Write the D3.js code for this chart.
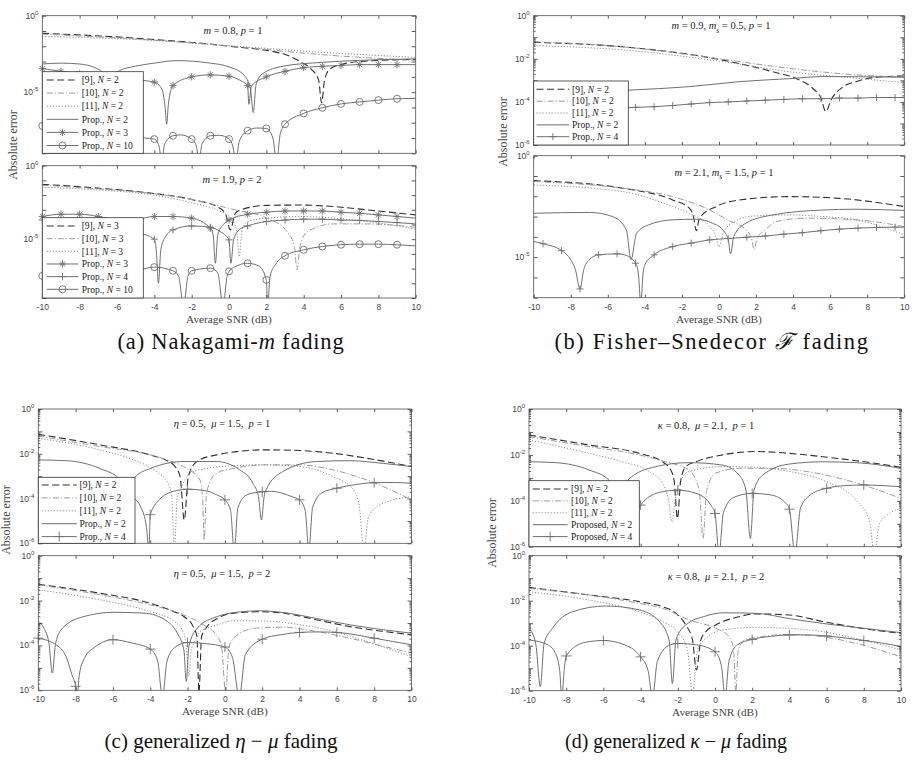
<!DOCTYPE html>
<html>
<head>
<meta charset="utf-8">
<script src="https://cdn.jsdelivr.net/npm/d3@7/dist/d3.min.js"></script>
<style>
  html, body { margin: 0; padding: 0; background: #fff; }
  svg { display: block; }
</style>
</head>
<body>
<svg id="fig" width="912" height="768"></svg>
<script>
// ---------------- data ----------------
const snrTicks = [-10, -8, -6, -4, -2, 0, 2, 4, 6, 8, 10];
const markEveryDb = [-10, -9, -8, -7, -6, -5, -4, -3, -2, -1, 0, 1, 2, 3, 4, 5, 6, 7, 8, 9];
const markHalfDb = [-9.5, -8.5, -7.5, -6.5, -5.5, -4.5, -3.5, -2.5, -1.5, -0.5, 0.5, 1.5, 2.5, 3.5, 4.5, 5.5, 6.5, 7.5, 8.5, 9.5];
const markEvenDb = [-8, -6, -4, -2, 0, 2, 4, 6, 8];
const markEvenFromMinus10 = [-10, -8, -6, -4, -2, 0, 2, 4, 6, 8];

const yLabelsWide = [1, 1e-5];
const yLabelsFine = [1, 1e-2, 1e-4, 1e-6];

// (a) Nakagami-m, m = 0.8, p = 1
const aTopRef9 = [[-10,7.1e-2],[-5,3.4e-2],[0,1.0e-2],[2.9,3.2e-3],[3.8,1.0e-3],[4.4,3.2e-4],[4.8,6.3e-5],[4.96,2.0e-6],[5.12,6.3e-5],[5.4,3.2e-4],[6,6.3e-4],[7,1.0e-3],[10,1.4e-3]];
const aTopRef10 = [[-10,6.2e-2],[-5,3.0e-2],[0,1.05e-2],[5,2.8e-3],[10,1.2e-3]];
const aTopRef11 = [[-10,4.4e-2],[-5,2.8e-2],[0,1.1e-2],[5,4.0e-3],[10,1.9e-3]];
const aTopProp2 = [[-10,6.9e-4],[-9,7.9e-4],[-8,6.9e-4],[-6.9,2.7e-4],[-6.6,6e-5],[-6.45,1e-6],[-6.3,6e-5],[-5.93,2.3e-4],[-5,5.0e-4],[-4,7.9e-4],[-2.8,1.15e-3],[-1,7.9e-4],[0,4.5e-4],[0.8,1.3e-4],[1.15,1.6e-5],[1.3,4.6e-7],[1.45,3.2e-5],[1.8,1.6e-4],[2.9,5.0e-4],[5,8.9e-4],[7,1.2e-3],[10,1.5e-3]];
const aTopProp3 = [[-10,3.5e-4],[-9,2.3e-4],[-8,1.6e-4],[-7,1.2e-4],[-6,9e-5],[-5,6.5e-5],[-4,4.5e-5],[-3.6,1.6e-5],[-3.42,1e-6],[-3.34,8e-8],[-3.24,2e-6],[-3,2.7e-5],[-2,1.0e-4],[-1,1.35e-4],[0,1.1e-4],[0.7,5e-5],[1,2.7e-5],[1.06,1.6e-6],[1.2,2.5e-5],[2,1.0e-4],[3,2.3e-4],[4,4.0e-4],[5,4.9e-4],[6,5.6e-4],[7,6.3e-4],[8,6.3e-4],[9,6.3e-4],[10,6.3e-4]];
const aTopProp10 = [[-10,6.2e-8],[-9,4e-8],[-8,2.5e-8],[-7,1.8e-8],[-6,1.4e-8],[-5,1.1e-8],[-4,8.5e-9],[-3.75,3e-9],[-3.6,3e-10],[-3.45,4e-9],[-3,1.4e-8],[-2.6,1.6e-8],[-2,8.5e-9],[-1.75,3e-9],[-1.6,3e-10],[-1.45,4e-9],[-1,1.4e-8],[-0.5,1.5e-8],[0,8.5e-9],[0.2,3e-9],[0.37,3e-10],[0.55,6e-9],[1,3e-8],[1.5,4.5e-8],[2,4.2e-8],[2.35,1e-8],[2.55,3e-10],[2.75,2e-8],[3,8e-8],[4,4.1e-7],[5,9.5e-7],[6,1.7e-6],[7,2.3e-6],[8,3e-6],[9,3.7e-6],[10,3.9e-6]];

// (a) Nakagami-m, m = 1.9, p = 2
const aBotRef9 = [[-10,5.4e-2],[-6.9,2.9e-2],[-4.04,1.3e-2],[-1.9,4.7e-3],[-0.64,1.65e-3],[-0.2,5.8e-4],[0.07,4.3e-5],[0.34,5.8e-4],[0.61,9.8e-4],[2.04,2.0e-3],[3.83,2.1e-3],[5.62,1.65e-3],[7.41,9.8e-4],[10,4.5e-4]];
const aBotRef10 = [[-10,4.7e-2],[-6.9,2.6e-2],[-4.04,1.26e-2],[-1.9,4.7e-3],[0.33,9.8e-4],[2.04,2.7e-4],[3.11,3.3e-5],[3.5,3.2e-6],[3.65,8.3e-8],[3.8,3.2e-6],[4.2,3.3e-5],[5.6,1.1e-4],[7.4,1.1e-4],[10,6.5e-5]];
const aBotRef11 = [[-10,3.4e-2],[-6.9,2.2e-2],[-4.04,1.0e-2],[-1.9,2.8e-3],[-0.64,9.8e-4],[0.1,2.7e-4],[0.4,4.3e-5],[0.55,6.6e-7],[0.7,4.3e-5],[1.0,1.6e-4],[2.04,2.7e-4],[3.83,3.5e-4],[5.62,2.7e-4],[7.41,1.6e-4],[10,4.8e-5]];
const aBotProp3 = [[-10,3.5e-4],[-9,5.0e-4],[-8,5.0e-4],[-7,3.5e-4],[-6,1.6e-4],[-5.5,5e-7],[-5,1.6e-4],[-4,3.5e-4],[-3,3.5e-4],[-2,2.7e-4],[-1,5.6e-5],[-0.85,2e-5],[-0.73,2.3e-7],[-0.6,2e-5],[-0.3,1e-4],[0,2.0e-4],[1,5.0e-4],[2,6.8e-4],[3,8.3e-4],[4,8.3e-4],[5,8.3e-4],[6,6.8e-4],[7,5.8e-4],[8,4.5e-4],[9,3.5e-4],[10,2.7e-4]];
const aBotProp4 = [[-10,2.0e-4],[-9,1.5e-4],[-8,1.2e-4],[-7,9e-5],[-6,6e-5],[-5,3e-5],[-4,1.0e-5],[-3.88,1e-6],[-3.78,1e-8],[-3.65,2e-6],[-3.4,1.5e-5],[-3,4.3e-5],[-2,8e-5],[-1,6.5e-5],[-0.5,3.5e-5],[0,9e-6],[0.1,2.3e-7],[0.25,1e-5],[0.6,5e-5],[1,8e-5],[2,1.6e-4],[3,2.0e-4],[4,2.3e-4],[5,2.3e-4],[6,2.0e-4],[7,1.9e-4],[8,1.6e-4],[9,1.35e-4],[10,1.1e-4]];
const aBotProp10 = [[-10,3.2e-8],[-9,5e-8],[-8,6e-8],[-7,4e-8],[-6,1e-8],[-5.6,3e-10],[-5,5e-8],[-4,1.26e-7],[-3,7.1e-8],[-2.7,3e-8],[-2.43,3e-10],[-2.2,3e-8],[-2,7.1e-8],[-1,1.07e-7],[-0.6,5e-8],[-0.32,3e-10],[-0.1,3e-8],[0,6.5e-8],[0.5,1.7e-7],[1,2.3e-7],[1.6,1.5e-7],[2,1.7e-8],[2.07,3e-10],[2.2,3e-8],[2.5,2e-7],[3,7.4e-7],[4,1.9e-6],[5,3.2e-6],[6,4.2e-6],[7,4.6e-6],[8,4.6e-6],[9,4.2e-6],[10,3.5e-6]];

// (b) Fisher-Snedecor, m = 0.9, ms = 0.5, p = 1
const bTopRef9 = [[-10,5.8e-2],[-5.2,3.6e-2],[0.2,8.7e-3],[2.9,2.5e-3],[4.33,1.05e-3],[5.05,4.3e-4],[5.5,1.5e-4],[5.77,3.5e-5],[6.04,1.2e-4],[6.67,4.8e-4],[7.39,8.7e-4],[8.47,1.4e-3],[10,1.6e-3]];
const bTopRef10 = [[-10,6.2e-2],[-5.2,3.6e-2],[0.2,9.5e-3],[3.8,3.6e-3],[7.4,1.8e-3],[10,1.4e-3]];
const bTopRef11 = [[-10,4.1e-2],[-5.2,2.6e-2],[0.2,7.4e-3],[3.8,2.5e-3],[7.4,1.26e-3],[10,7.8e-4]];
const bTopProp2 = [[-10,2.4e-4],[-7,2.9e-4],[-4.9,3.5e-4],[-1.6,5.1e-4],[1.1,8.7e-4],[3.8,1.2e-3],[5.6,1.5e-3],[10,1.4e-3]];
const bTopProp4 = [[-10,3.5e-5],[-9.5,3.7e-5],[-8.5,4e-5],[-7.5,4.3e-5],[-6.5,4.7e-5],[-5.5,5.2e-5],[-4.5,5.6e-5],[-3.5,6.0e-5],[-2.5,6.8e-5],[-1.5,8e-5],[-0.5,9.3e-5],[0.5,1.0e-4],[1.5,1.1e-4],[2.5,1.2e-4],[3.5,1.3e-4],[4.5,1.4e-4],[5.5,1.4e-4],[6.5,1.5e-4],[7.5,1.5e-4],[8.5,1.6e-4],[9.5,1.6e-4],[10,1.6e-4]];

// (b) Fisher-Snedecor, m = 2.1, ms = 1.5, p = 1
const bBotRef9 = [[-10,5.9e-2],[-5.2,2.5e-2],[-2.5,6.6e-3],[-1.6,2.6e-3],[-1.38,1e-3],[-1.22,2e-4],[-1.06,8.3e-4],[-0.16,3.1e-3],[1.1,6.6e-3],[3.8,9.6e-3],[6.5,7.9e-3],[10,3.1e-3]];
const bBotRef10 = [[-10,5.3e-2],[-5.2,2.5e-2],[-2.5,9.6e-3],[-0.5,2.1e-3],[0.45,6.9e-4],[1.45,2.2e-4],[1.75,8.5e-5],[1.9,2.3e-5],[2.05,8.5e-5],[2.5,2.2e-4],[3.1,5.6e-4],[4.7,8.3e-4],[7.4,6.9e-4],[10,3.2e-4]];
const bBotRef11 = [[-10,3.6e-2],[-5.2,1.7e-2],[-2.5,3.1e-3],[-1.6,1.45e-3],[-0.5,3.2e-4],[-0.2,1.26e-4],[0,3.3e-5],[0.2,1.26e-4],[0.4,2.7e-4],[1,6.9e-4],[1.9,1.07e-3],[3.8,1.2e-3],[5.6,1e-3],[7.4,6.9e-4],[10,1.26e-4]];
const bBotProp2 = [[-10,1.45e-3],[-7,1.6e-3],[-5.75,1e-3],[-5.0,2.2e-4],[-4.75,7.4e-6],[-4.45,1.5e-4],[-3.8,3.9e-4],[-2.5,6.9e-4],[-1.25,7.4e-4],[-0.35,4.7e-4],[0.2,2.2e-4],[0.5,7.1e-5],[0.62,1.45e-5],[0.8,1.05e-4],[1.45,4.7e-4],[2.9,1.2e-3],[5.6,2.1e-3],[7.4,2.3e-3],[10,2.0e-3]];
const bBotProp4 = [[-10,5.9e-5],[-9.5,4.6e-5],[-8.5,2.1e-5],[-8,7.4e-6],[-7.75,2.4e-6],[-7.5,2.7e-7],[-7.3,2.4e-6],[-7,7.4e-6],[-6.5,1.3e-5],[-5.5,1.45e-5],[-5,1.2e-5],[-4.5,5e-6],[-4.35,1.5e-6],[-4.22,5e-8],[-4.1,1.5e-6],[-4,4.2e-6],[-3.5,1.3e-5],[-2.5,3.3e-5],[-1.5,4.9e-5],[-0.5,7.1e-5],[0.5,8.3e-5],[1.5,9.6e-5],[2.5,1.1e-4],[3.5,1.35e-4],[4.5,1.6e-4],[5.5,2e-4],[6.5,2.4e-4],[7.5,2.7e-4],[8.5,2.9e-4],[9.5,3e-4],[10,3e-4]];

// (c) generalized eta-mu, p = 1
const cTopRef9 = [[-10,7.4e-2],[-6.7,2.5e-2],[-4,8.9e-3],[-3.1,4.9e-3],[-2.75,3.2e-3],[-2.4,9.5e-4],[-2.18,1.1e-5],[-1.96,9.5e-4],[-1.5,4.5e-3],[-0.45,8.9e-3],[2.2,1.5e-2],[4,1.4e-2],[5.8,1.05e-2],[7.6,6.3e-3],[10,2.7e-3]];
const cTopRef10 = [[-10,6.2e-2],[-6.7,2.1e-2],[-4,8.9e-3],[-3.1,5.3e-3],[-2.05,2.2e-3],[-1.34,6.8e-4],[-1.2,1.2e-4],[-1.11,1.4e-6],[-1.0,1.2e-4],[-0.75,6.8e-4],[-0.45,1.35e-3],[0.45,2.2e-3],[2.2,3.2e-3],[4,3.2e-3],[5.8,1.9e-3],[7.6,6.8e-4],[10,8.7e-5]];
const cTopRef11 = [[-10,4.9e-2],[-6.7,1.5e-2],[-4.9,5.3e-3],[-3.66,1.6e-3],[-3.1,5.7e-4],[-2.85,1.2e-4],[-2.71,5e-7],[-2.55,1.2e-4],[-2.4,2.4e-4],[-1.88,1.35e-3],[-1,2.2e-3],[0.45,2.9e-3],[2.2,3.2e-3],[4,2.7e-3],[5.8,9.5e-4],[6.9,2.4e-4],[7.2,4.4e-5],[7.45,5e-7],[7.7,1.6e-5],[8.5,6.2e-5],[10,1.2e-4]];
const cTopProp2 = [[-10,5.3e-3],[-8.5,4.9e-3],[-6.7,2.2e-3],[-5.6,6.8e-4],[-5.35,1.5e-4],[-5.2,1e-6],[-5.05,1.5e-4],[-4.82,8.9e-4],[-4,2.2e-3],[-2.2,4.5e-3],[-0.45,4.5e-3],[0.8,1.9e-3],[1.5,4.8e-4],[1.8,1.2e-4],[1.96,1.1e-5],[2.1,1.2e-4],[2.2,2.4e-4],[3.1,1.6e-3],[4.9,4.5e-3],[6.7,4.9e-3],[8.5,3.7e-3],[10,2.7e-3]];
const cTopProp4 = [[-10,1.5e-4],[-9,2e-5],[-8.6,5e-7],[-8.2,3e-5],[-8,6e-5],[-6.5,2.3e-4],[-6,2e-4],[-5,1.2e-4],[-4.5,4e-5],[-4.2,5e-6],[-4.07,5e-7],[-4,1.9e-5],[-3.5,9e-5],[-3,1.8e-4],[-2,2.6e-4],[-1,2.2e-4],[-0.4,1.4e-4],[0,8.7e-5],[0.3,3e-5],[0.5,5e-7],[0.7,4e-5],[1.2,1.5e-4],[2,2.0e-4],[2.5,2.1e-4],[3,1.8e-4],[3.6,1.2e-4],[4,8.7e-5],[4.3,3e-5],[4.5,5e-7],[4.7,4e-5],[5.2,1.8e-4],[6,2.9e-4],[7,4.2e-4],[8,5.1e-4],[9,5.2e-4],[10,4.8e-4]];

// (c) generalized eta-mu, p = 2
const cBotRef9 = [[-10,5.3e-2],[-6.66,2.1e-2],[-4,7.6e-3],[-2.73,3.2e-3],[-2.2,1.95e-3],[-1.7,6.9e-4],[-1.5,2.5e-4],[-1.39,8e-7],[-1.25,2.5e-4],[-0.95,6.9e-4],[-0.4,1.6e-3],[0.48,2.75e-3],[1.9,3.2e-3],[3.16,2.75e-3],[4.9,1.4e-3],[6.7,6.9e-4],[8.5,4.2e-4],[10,3.0e-4]];
const cBotRef10 = [[-10,5e-2],[-6.66,1.8e-2],[-4,6.4e-3],[-2.2,2.3e-3],[-1.16,8.3e-4],[-0.4,2.5e-4],[-0.18,9.1e-5],[0.04,8e-7],[0.22,9.1e-5],[0.8,3.5e-4],[1.7,5.9e-4],[3.16,6.5e-4],[4.9,4.2e-4],[6.7,2.1e-4],[8.5,9.1e-5],[10,4.6e-5]];
const cBotRef11 = [[-10,3.0e-2],[-6.66,1.07e-2],[-4,3.2e-3],[-2.73,1.2e-3],[-2.2,3.5e-4],[-2.05,6.4e-5],[-1.93,4.2e-6],[-1.8,6.4e-5],[-1.66,1.26e-4],[-1.3,4.2e-4],[-0.4,8.3e-4],[0.48,1.26e-3],[2.27,1.2e-3],[4.05,8.3e-4],[5.84,4.2e-4],[7.6,1.5e-4],[10,3.2e-5]];
const cBotProp2 = [[-10,1.2e-3],[-9.7,5.9e-4],[-9.43,1.26e-4],[-9.25,5.9e-6],[-9.07,1.26e-4],[-8.7,5.9e-4],[-7.55,1.95e-3],[-5.95,3.0e-3],[-4.34,2.75e-3],[-3.1,1.2e-3],[-2.55,3.5e-4],[-2.2,6.4e-5],[-2.07,2.5e-6],[-1.93,9.1e-5],[-1.48,5.9e-4],[-0.4,1.95e-3],[0.48,2.9e-3],[1.9,3.5e-3],[3.16,2.9e-3],[4.9,1.6e-3],[6.7,8.3e-4],[8.5,5e-4],[10,3.5e-4]];
const cBotProp4 = [[-10,2.1e-4],[-9,1e-4],[-8.5,3e-5],[-8.2,5e-6],[-8,1.5e-6],[-7.92,5e-7],[-7.8,5e-6],[-7.5,3e-5],[-7,8e-5],[-6,1.8e-4],[-5,1.3e-4],[-4,6.9e-5],[-3.6,2e-5],[-3.35,5e-7],[-3.1,2e-5],[-2.7,8e-5],[-2,1.35e-4],[-1,1.2e-4],[0,8.5e-5],[0.4,3e-5],[0.77,5e-7],[1.1,4e-5],[2,1.9e-4],[3,3e-4],[4,3.8e-4],[5,4e-4],[6,3.8e-4],[7,3e-4],[8,2.1e-4],[9,1.5e-4],[10,1.07e-4]];

// (d) generalized kappa-mu, p = 1
const dTopRef9 = [[-10,7.4e-2],[-6.77,2.7e-2],[-4.08,1.17e-2],[-2.82,5.0e-3],[-2.38,2.2e-3],[-2.2,7.9e-4],[-2.02,1.7e-5],[-1.84,7.9e-4],[-1.57,3.1e-3],[-1.03,5e-3],[0.4,1e-2],[2.2,1.4e-2],[4,1.17e-2],[5.8,8.3e-3],[7.58,5.6e-3],[10,2.9e-3]];
const dTopRef10 = [[-10,6.2e-2],[-6.77,2.3e-2],[-4.08,1e-2],[-2.65,5e-3],[-1.4,2.2e-3],[-0.85,2.9e-4],[-0.64,2.3e-6],[-0.45,2.9e-4],[0.04,1.6e-3],[1.3,2.6e-3],[3.1,2.6e-3],[4.9,1.9e-3],[6.7,9.5e-4],[8.5,3.5e-4],[10,1.26e-4]];
const dTopRef11 = [[-10,4.5e-2],[-6.77,1.17e-2],[-4.98,5e-3],[-3.54,1.9e-3],[-2.82,5.8e-4],[-2.5,1.07e-4],[-2.32,1.2e-5],[-2.15,1.07e-4],[-1.9,5.8e-4],[-1.39,1.9e-3],[0.4,3.1e-3],[2.2,2.9e-3],[4,1.9e-3],[5.8,7.9e-4],[7.58,1.07e-4],[8.3,1.45e-5],[8.57,5e-7],[8.84,1e-5],[9.38,2.8e-5],[10,4.7e-5]];
const dTopProp2 = [[-10,5e-3],[-8.56,4.6e-3],[-6.77,2.2e-3],[-5.7,7.9e-4],[-5.35,1e-4],[-5.2,1e-6],[-5.05,1e-4],[-4.7,7.9e-4],[-3.18,3.1e-3],[-1.39,4.6e-3],[0.4,3.6e-3],[1.3,1.3e-3],[1.66,2.9e-4],[1.9,2.3e-6],[2.1,2.9e-4],[2.56,1.3e-3],[4,4e-3],[5.78,5e-3],[7.58,4.6e-3],[10,2.6e-3]];
const dTopProp4 = [[-10,2e-4],[-8,6e-5],[-7.2,5e-7],[-6.6,8e-5],[-6,2e-4],[-5,1e-4],[-4.4,5e-7],[-4.2,2e-5],[-4,6.5e-5],[-3,2.3e-4],[-2,2.9e-4],[-1,2.1e-4],[-0.2,6e-5],[0,2.8e-5],[0.22,5e-7],[0.45,3e-5],[1,1.4e-4],[2,2.1e-4],[3,1.8e-4],[3.8,8e-5],[4,4.3e-5],[4.3,5e-7],[4.6,5e-5],[5.2,2e-4],[6,3.5e-4],[7,4.6e-4],[8,4.9e-4],[9,4.6e-4],[10,4.1e-4]];

// (d) generalized kappa-mu, p = 2
const dBotRef9 = [[-10,3.9e-2],[-6.77,1.8e-2],[-4.08,9.1e-3],[-2.82,5.4e-3],[-2.1,2.75e-3],[-1.57,8.3e-4],[-1.21,1.8e-4],[-1.0,8.3e-6],[-0.76,1.8e-4],[-0.49,4.2e-4],[0.04,8.3e-4],[1.3,1.95e-3],[2.2,2.6e-3],[4,2.3e-3],[5.78,1.2e-3],[7.58,6.5e-4],[10,3.5e-4]];
const dBotRef10 = [[-10,3.5e-2],[-6.77,1.8e-2],[-4.08,7.6e-3],[-2.82,4.6e-3],[-1.39,1.4e-3],[0.04,5.9e-4],[0.76,2.5e-4],[1.0,6.5e-5],[1.12,8e-7],[1.25,6.5e-5],[1.66,1.9e-4],[2.2,2.3e-4],[4,3.2e-4],[5.78,2.5e-4],[7.58,1.26e-4],[10,3.2e-5]];
const dBotRef11 = [[-10,2.5e-2],[-6.77,1.07e-2],[-4.08,3.2e-3],[-2.82,1.2e-3],[-1.93,3.5e-4],[-1.48,6.5e-5],[-1.21,8e-7],[-0.94,6.5e-5],[-0.49,2.1e-4],[0.4,5e-4],[2.2,6.5e-4],[4,5.9e-4],[5.78,4.2e-4],[7.58,2.1e-4],[10,6.5e-5]];
const dBotProp2 = [[-10,5.9e-4],[-9.64,1.26e-4],[-9.39,1.5e-6],[-9.19,1.26e-4],[-8.74,5.9e-4],[-7.67,3.2e-3],[-5.87,5.8e-3],[-4.08,3.9e-3],[-3,1.2e-3],[-2.47,1.8e-4],[-2.29,2.1e-6],[-2.1,1.8e-4],[-1.57,8.3e-4],[-0.49,2.1e-3],[0.4,2.9e-3],[2.2,2.75e-3],[4,1.6e-3],[5.78,9.8e-4],[7.58,6.5e-4],[10,3.8e-4]];
const dBotProp4 = [[-10,1.8e-4],[-9,1.1e-4],[-8.6,5e-5],[-8.35,8e-6],[-8.24,5e-7],[-8.1,1e-5],[-8,3.5e-5],[-7,1.4e-4],[-6,1.7e-4],[-5,1.2e-4],[-4,3.2e-5],[-3.6,8e-6],[-3.36,5e-7],[-3.1,2e-5],[-2.5,1e-4],[-2,1.26e-4],[-1,1.1e-4],[0,5.4e-5],[0.35,1.2e-5],[0.54,5e-7],[0.75,2e-5],[1.2,1.1e-4],[2,1.9e-4],[3,2.6e-4],[4,3.0e-4],[5,3.0e-4],[6,2.7e-4],[7,2.2e-4],[8,1.7e-4],[9,1.3e-4],[10,9.1e-5]];

// legend texts and in-plot notes
const legendA1 = ["[9], N = 2", "[10], N = 2", "[11], N = 2", "Prop., N = 2", "Prop., N = 3", "Prop., N = 10"];
const legendA2 = ["[9], N = 3", "[10], N = 3", "[11], N = 3", "Prop., N = 3", "Prop., N = 4", "Prop., N = 10"];
const legendB1 = ["[9], N = 2", "[10], N = 2", "[11], N = 2", "Prop., N = 2", "Prop., N = 4"];
const legendC1 = ["[9], N = 2", "[10], N = 2", "[11], N = 2", "Prop., N = 2", "Prop., N = 4"];
const legendD1 = ["[9], N = 2", "[10], N = 2", "[11], N = 2", "Proposed, N = 2", "Proposed, N = 4"];

const noteA1 = "m = 0.8, p = 1";
const noteA2 = "m = 1.9, p = 2";
const noteB1 = "m = 0.9, m_s = 0.5, p = 1";
const noteB2 = "m = 2.1, m_s = 1.5, p = 1";
const noteC1 = "η = 0.5,  μ = 1.5,  p = 1";
const noteC2 = "η = 0.5,  μ = 1.5,  p = 2";
const noteD1 = "κ = 0.8,  μ = 2.1,  p = 1";
const noteD2 = "κ = 0.8,  μ = 2.1,  p = 2";

const captionA = [["(a) Nakagami-"], ["m", "i"], [" fading"]];
const captionB = [["(b) Fisher–Snedecor "], ["ℱ", "i"], [" fading"]];
const captionC = [["(c) generalized "], ["η", "i"], [" − "], ["μ", "i"], [" fading"]];
const captionD = [["(d) generalized "], ["κ", "i"], [" − "], ["μ", "i"], [" fading"]];

const xAxisTitle = "Average SNR (dB)";
const yAxisTitle = "Absolute error";

// ---------------- drawing ----------------
const SERIF = "'Liberation Serif', 'Times New Roman', serif";
const SANS = "'Liberation Sans', Arial, sans-serif";

const lineStyles = {
  ref9:  { stroke: "#2e2e2e", dash: "7,3.5", width: 1.1 },
  ref10: { stroke: "#9b9b9b", dash: "6,2,1.2,2", width: 1 },
  ref11: { stroke: "#8c8c8c", dash: "1.2,1.8", width: 1 },
  prop:  { stroke: "#6f6f6f", dash: null, width: 1 }
};

const svg = d3.select("#fig");
svg.append("rect").attr("width", 912).attr("height", 768).attr("fill", "#fff");
const defs = svg.append("defs");

// styled text pieces: "" normal, "i" italic, "isub" italic subscript
function richText(text, parts, size) {
  let shift = 0;
  parts.forEach(([s, st]) => {
    const t = text.append("tspan").text(s);
    let target = 0;
    if (st === "i" || st === "isub") t.attr("font-style", "italic");
    if (st === "isub") { target = size * 0.3; t.attr("font-size", size * 0.72); }
    if (target !== shift) t.attr("dy", target - shift);
    shift = target;
  });
}

// math string: letters italic, "_x" as italic subscript
function mathParts(str) {
  const parts = [];
  let buf = "";
  for (let i = 0; i < str.length; i++) {
    const c = str[i];
    if (c === "_" && i + 1 < str.length) {
      if (buf) { parts.push([buf, ""]); buf = ""; }
      parts.push([str[i + 1], "isub"]);
      i++;
    } else if (/[A-Za-zηκμ]/.test(c)) {
      if (buf) { parts.push([buf, ""]); buf = ""; }
      parts.push([c, "i"]);
    } else {
      buf += c;
    }
  }
  if (buf) parts.push([buf, ""]);
  return parts;
}

function legendParts(str) {
  return str.split(/(N)/).filter(s => s.length).map(s => [s, s === "N" ? "i" : ""]);
}

function drawMarker(g, type, cx, cy, s, color) {
  if (type === "circle") {
    g.append("circle").attr("cx", cx).attr("cy", cy).attr("r", s)
      .attr("fill", "none").attr("stroke", color).attr("stroke-width", 0.9);
    return;
  }
  let d = `M${cx - s},${cy}H${cx + s}M${cx},${cy - s}V${cy + s}`;
  if (type === "star") {
    const k = s * 0.72;
    d += `M${cx - k},${cy - k}L${cx + k},${cy + k}M${cx - k},${cy + k}L${cx + k},${cy - k}`;
  }
  g.append("path").attr("d", d).attr("fill", "none").attr("stroke", color).attr("stroke-width", 0.9);
}

function styleAxis(g) {
  g.select(".domain").remove();
  g.selectAll(".tick line").attr("stroke", "#333").attr("stroke-width", 0.8);
  g.attr("font-family", SANS).attr("font-size", null);
}

function drawPanel(p) {
  const g = svg.append("g").attr("class", "panel-" + p.id);
  const x = d3.scaleLinear().domain([-10, 10]).range([p.x0, p.x1]);
  const y = d3.scaleLog().domain(p.dom).range([p.y1, p.y0]);

  const clipId = "clip-" + p.id;
  defs.append("clipPath").attr("id", clipId).append("rect")
    .attr("x", p.x0).attr("y", p.y0).attr("width", p.x1 - p.x0).attr("height", p.y1 - p.y0);

  const line = d3.line().x(d => x(d[0])).y(d => y(d[1])).curve(d3.curveMonotoneX);

  // curves
  const curves = g.append("g").attr("clip-path", `url(#${clipId})`);
  p.series.forEach(s => {
    const st = lineStyles[s.st];
    curves.append("path").datum(s.d).attr("d", line)
      .attr("fill", "none").attr("stroke", st.stroke).attr("stroke-width", st.width)
      .attr("stroke-dasharray", st.dash).attr("stroke-linejoin", "round");
  });

  // markers
  const mk = g.append("g");
  p.series.filter(s => s.mk).forEach(s => {
    s.at.forEach(xv => {
      const pt = s.d.find(d => Math.abs(d[0] - xv) < 1e-9);
      if (pt) drawMarker(mk, s.mk, x(pt[0]), y(pt[1]), s.ms, lineStyles[s.st].stroke);
    });
  });

  // ticks
  const allY = y.ticks();
  const decades = allY.filter(v => Math.abs(Math.log10(v) - Math.round(Math.log10(v))) < 1e-9);
  const minors = allY.filter(v => Math.abs(Math.log10(v) - Math.round(Math.log10(v))) >= 1e-9);

  const ax = g.append("g");
  const bottom = ax.append("g").attr("transform", `translate(0,${p.y1})`)
    .call(d3.axisBottom(x).tickValues(snrTicks).tickSizeInner(-3).tickSizeOuter(0).tickPadding(6)
      .tickFormat(p.xLabels ? (d => String(d)) : ""));
  styleAxis(bottom);
  bottom.selectAll("text").attr("font-size", 8.5).attr("fill", "#444");
  const top = ax.append("g").attr("transform", `translate(0,${p.y0})`)
    .call(d3.axisTop(x).tickValues(snrTicks).tickSizeInner(-3).tickSizeOuter(0).tickFormat(""));
  styleAxis(top);
  [["L", p.x0, d3.axisLeft], ["R", p.x1, d3.axisRight]].forEach(([, px, mkAxis]) => {
    const a = ax.append("g").attr("transform", `translate(${px},0)`)
      .call(mkAxis(y).tickValues(decades).tickSizeInner(-4).tickSizeOuter(0).tickFormat(""));
    styleAxis(a);
    if (p.minor) {
      const m = ax.append("g").attr("transform", `translate(${px},0)`)
        .call(mkAxis(y).tickValues(minors).tickSizeInner(-2).tickSizeOuter(0).tickFormat(""));
      styleAxis(m);
    }
  });

  // frame
  g.append("rect").attr("x", p.x0).attr("y", p.y0).attr("width", p.x1 - p.x0).attr("height", p.y1 - p.y0)
    .attr("fill", "none").attr("stroke", "#505050").attr("stroke-width", 0.8);

  // y tick labels as powers of ten
  p.labels.forEach(v => {
    const e = Math.round(Math.log10(v));
    const t = g.append("text").attr("x", p.x0 - 4).attr("y", y(v) + 3)
      .attr("text-anchor", "end").attr("font-family", SANS).attr("font-size", 8.5).attr("fill", "#444");
    t.append("tspan").text("10");
    t.append("tspan").attr("dy", -4).attr("font-size", 6).text(String(e));
  });

  // in-plot parameter note
  const nt = g.append("text").attr("x", p.noteXY[0]).attr("y", p.noteXY[1] + 3.4)
    .attr("text-anchor", "middle").attr("font-family", SERIF).attr("font-size", 10.5).attr("fill", "#222")
    .attr("xml:space", "preserve").style("white-space", "pre");
  richText(nt, mathParts(p.note), 10.5);

  // legend
  if (p.legend) {
    const L = p.legend;
    const lg = g.append("g");
    lg.append("rect").attr("x", L.x).attr("y", L.y).attr("width", L.w).attr("height", L.h)
      .attr("fill", "#fff").attr("stroke", "#333").attr("stroke-width", 0.8);
    L.labels.forEach((lab, i) => {
      const s = p.series[i];
      const st = lineStyles[s.st];
      const ry = L.first + i * L.step;
      lg.append("line").attr("x1", L.lx0).attr("x2", L.lx1).attr("y1", ry).attr("y2", ry)
        .attr("stroke", st.stroke).attr("stroke-width", st.width).attr("stroke-dasharray", st.dash);
      if (s.mk) drawMarker(lg, s.mk, (L.lx0 + L.lx1) / 2, ry, s.ms, st.stroke);
      const t = lg.append("text").attr("x", L.tx).attr("y", ry + 3.2)
        .attr("font-family", SERIF).attr("font-size", 9.5).attr("fill", "#222");
      richText(t, legendParts(lab), 9.5);
    });
  }

  if (p.xLabels) {
    g.append("text").attr("x", (p.x0 + p.x1) / 2).attr("y", p.y1 + 25).attr("text-anchor", "middle")
      .attr("font-family", SERIF).attr("font-size", 11.3).attr("fill", "#444").text(xAxisTitle);
  }
}

const panels = [
  { id: "a1", x0: 42.3, x1: 415.7, y0: 15.7, y1: 153.3, dom: [1e-9, 1], minor: false, labels: yLabelsWide, xLabels: false,
    series: [{ d: aTopRef9, st: "ref9" }, { d: aTopRef10, st: "ref10" }, { d: aTopRef11, st: "ref11" }, { d: aTopProp2, st: "prop" },
             { d: aTopProp3, st: "prop", mk: "star", at: markEveryDb, ms: 3.6 }, { d: aTopProp10, st: "prop", mk: "circle", at: markEveryDb, ms: 3.5 }],
    note: noteA1, noteXY: [233, 31],
    legend: { x: 42.3, y: 71.7, w: 101, h: 81.6, first: 80, step: 13.1, lx0: 46.7, lx1: 78.3, tx: 81.7, labels: legendA1 } },
  { id: "a2", x0: 42.3, x1: 415.7, y0: 165.7, y1: 298, dom: [1e-9, 1], minor: false, labels: yLabelsWide, xLabels: true,
    series: [{ d: aBotRef9, st: "ref9" }, { d: aBotRef10, st: "ref10" }, { d: aBotRef11, st: "ref11" },
             { d: aBotProp3, st: "prop", mk: "star", at: markEveryDb, ms: 3.6 }, { d: aBotProp4, st: "prop", mk: "plus", at: markEveryDb, ms: 3.6 },
             { d: aBotProp10, st: "prop", mk: "circle", at: markEveryDb, ms: 3.5 }],
    note: noteA2, noteXY: [232, 180],
    legend: { x: 42.3, y: 217.7, w: 101, h: 80.3, first: 226, step: 12.66, lx0: 46.7, lx1: 78.3, tx: 81.7, labels: legendA2 } },
  { id: "b1", x0: 533.7, x1: 904.3, y0: 15.7, y1: 145, dom: [1e-6, 1], minor: true, labels: yLabelsFine, xLabels: false,
    series: [{ d: bTopRef9, st: "ref9" }, { d: bTopRef10, st: "ref10" }, { d: bTopRef11, st: "ref11" }, { d: bTopProp2, st: "prop" },
             { d: bTopProp4, st: "prop", mk: "plus", at: markHalfDb, ms: 3.5 }],
    note: noteB1, noteXY: [721, 26],
    legend: { x: 533.7, y: 81, w: 94.6, h: 64, first: 89.3, step: 11.85, lx0: 536.5, lx1: 569.3, tx: 572, labels: legendB1 } },
  { id: "b2", x0: 533.7, x1: 904.3, y0: 155.7, y1: 297.7, dom: [1e-7, 1], minor: false, labels: yLabelsWide, xLabels: true,
    series: [{ d: bBotRef9, st: "ref9" }, { d: bBotRef10, st: "ref10" }, { d: bBotRef11, st: "ref11" }, { d: bBotProp2, st: "prop" },
             { d: bBotProp4, st: "prop", mk: "plus", at: markHalfDb, ms: 3.5 }],
    note: noteB2, noteXY: [724, 172.3] },
  { id: "c1", x0: 38.3, x1: 411.5, y0: 409, y1: 543.3, dom: [1e-6, 1], minor: true, labels: yLabelsFine, xLabels: false,
    series: [{ d: cTopRef9, st: "ref9" }, { d: cTopRef10, st: "ref10" }, { d: cTopRef11, st: "ref11" }, { d: cTopProp2, st: "prop" },
             { d: cTopProp4, st: "prop", mk: "plus", at: markEvenDb, ms: 5 }],
    note: noteC1, noteXY: [222, 424],
    legend: { x: 38.3, y: 477.3, w: 96.7, h: 66, first: 485, step: 12.9, lx0: 41.7, lx1: 76.7, tx: 79.5, labels: legendC1 } },
  { id: "c2", x0: 38.3, x1: 411.5, y0: 555.7, y1: 690.3, dom: [1e-6, 1], minor: true, labels: yLabelsFine, xLabels: true,
    series: [{ d: cBotRef9, st: "ref9" }, { d: cBotRef10, st: "ref10" }, { d: cBotRef11, st: "ref11" }, { d: cBotProp2, st: "prop" },
             { d: cBotProp4, st: "prop", mk: "plus", at: markEvenFromMinus10, ms: 5 }],
    note: noteC2, noteXY: [222, 574] },
  { id: "d1", x0: 529, x1: 901, y0: 409, y1: 546.7, dom: [1e-6, 1], minor: true, labels: yLabelsFine, xLabels: false,
    series: [{ d: dTopRef9, st: "ref9" }, { d: dTopRef10, st: "ref10" }, { d: dTopRef11, st: "ref11" }, { d: dTopProp2, st: "prop" },
             { d: dTopProp4, st: "prop", mk: "plus", at: markEvenDb, ms: 5 }],
    note: noteD1, noteXY: [706, 425.7],
    legend: { x: 529, y: 480.7, w: 110.3, h: 66, first: 489, step: 11.9, lx0: 532.7, lx1: 567.7, tx: 571, labels: legendD1 } },
  { id: "d2", x0: 529, x1: 901, y0: 555.7, y1: 690.7, dom: [1e-6, 1], minor: true, labels: yLabelsFine, xLabels: true,
    series: [{ d: dBotRef9, st: "ref9" }, { d: dBotRef10, st: "ref10" }, { d: dBotRef11, st: "ref11" }, { d: dBotProp2, st: "prop" },
             { d: dBotProp4, st: "prop", mk: "plus", at: markEvenDb, ms: 5 }],
    note: noteD2, noteXY: [716, 576.7] }
];

panels.forEach(drawPanel);

// shared y-axis titles, one per figure
[[13, 145], [503, 132], [6, 520], [492, 533]].forEach(([cx, cy]) => {
  svg.append("text").attr("transform", `translate(${cx},${cy}) rotate(-90)`)
    .attr("text-anchor", "middle").attr("dy", "0.35em")
    .attr("font-family", SERIF).attr("font-size", 12).attr("fill", "#444").text(yAxisTitle);
});

// sub-figure captions: font size scaled so each caption spans its target width
[[captionA, 231, 349, 227], [captionB, 712, 349, 315], [captionC, 221, 748, 233], [captionD, 676, 748, 222]].forEach(([parts, cx, by, w]) => {
  const base = 22;
  const t = svg.append("text").attr("x", cx).attr("y", by).attr("text-anchor", "middle")
    .attr("font-family", SERIF).attr("font-size", base).attr("fill", "#111")
    .attr("xml:space", "preserve").style("white-space", "pre");
  richText(t, parts, base);
  const len = t.node().getComputedTextLength();
  const size = Math.max(19.5, Math.min(22.5, base * w / len));
  t.attr("font-size", size);
  const len2 = t.node().getComputedTextLength();
  const chars = parts.map(d => d[0]).join("").length;
  const extra = (w - len2) / chars;
  if (extra > 0.05) t.attr("letter-spacing", extra.toFixed(2));
});
</script>
</body>
</html>
